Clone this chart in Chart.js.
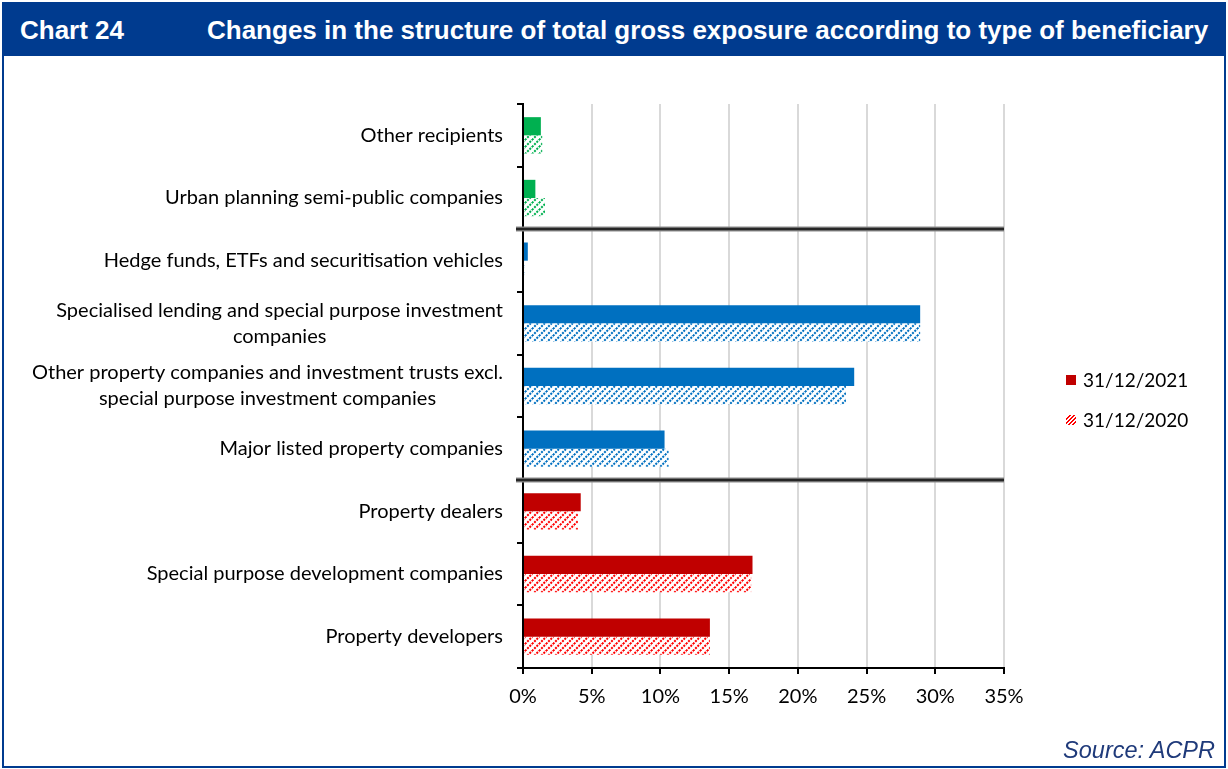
<!DOCTYPE html>
<html>
<head>
<meta charset="utf-8">
<script src="https://cdn.jsdelivr.net/npm/chart.js@4.4.0/dist/chart.umd.min.js"></script>
<style>
  html, body { margin:0; padding:0; background:#fff; }
  body { width:1228px; height:769px; position:relative; overflow:hidden; font-family: Lato, sans-serif; }
  #frame { position:absolute; left:2px; top:2px; width:1220px; height:764px; border:2px solid #003B8F; border-top:none; }
  #header { position:absolute; left:2px; top:2px; width:1224px; height:54px; background:#003B8F; color:#fff;
            font-family:"Liberation Sans", Arial, sans-serif; font-weight:bold; font-size:26px; }
  #header .num { position:absolute; left:18px; top:13px; }
  #header .ttl { position:absolute; left:205px; top:13px; white-space:nowrap; }
  #source { position:absolute; right:13px; top:737px; font-family:"Liberation Sans", Arial, sans-serif; font-style:italic;
            font-size:23.5px; color:#1F3A7A; }
  #legend { position:absolute; left:1066px; top:367px; font-size:19px; color:#000; }
  #legend .item { height:26px; line-height:26px; margin-bottom:14px; white-space:nowrap; }
  #legend .sw { display:inline-block; width:10px; height:10px; margin-right:7px; vertical-align:middle; position:relative; top:-2px; }
  canvas { position:absolute; left:0; top:0; }
</style>
</head>
<body>
<div id="frame"></div>
<div id="header"><span class="num">Chart 24</span><span class="ttl">Changes in the structure of total gross exposure according to type of beneficiary</span></div>
<canvas id="c" width="1228" height="769"></canvas>
<div id="legend"></div>
<div id="source">Source: ACPR</div>
<script>
// ---- data ----
const categories = [
  'Other recipients',
  'Urban planning semi-public companies',
  'Hedge funds, ETFs and securitisation vehicles',
  ['Specialised lending and special purpose investment', 'companies'],
  ['Other property companies and investment trusts excl.', 'special purpose investment companies'],
  'Major listed property companies',
  'Property dealers',
  'Special purpose development companies',
  'Property developers'
];
const groups = ['green', 'green', 'blue', 'blue', 'blue', 'blue', 'red', 'red', 'red'];
const seriesNames = ['31/12/2021', '31/12/2020'];
const values2021 = [1.3, 0.9, 0.35, 28.9, 24.1, 10.3, 4.2, 16.7, 13.6];
const values2020 = [1.4, 1.6, 0.1, 28.9, 23.5, 10.6, 4.0, 16.6, 13.6];
const separatorsAfter = [1, 5];
const xMin = 0, xMax = 35, xStep = 5;

// ---- styles ----
const solidColors = { green: '#00B050', blue: '#0070C0', red: '#C00000' };
const hatchColors = { green: '#00B050', blue: '#0070C0', red: '#FF0000' };
const FONT = 'Lato';
const FONT_SIZE = 20;

function makeHatch(color) {
  const s = 7;
  const t = document.createElement('canvas');
  t.width = s; t.height = s;
  const g = t.getContext('2d');
  g.fillStyle = '#fff';
  g.fillRect(0, 0, s, s);
  g.strokeStyle = color;
  g.lineWidth = 2;
  g.setLineDash([2, 1.2]);
  g.beginPath();
  g.moveTo(0, s); g.lineTo(s, 0);
  g.moveTo(-s / 2, s / 2); g.lineTo(s / 2, -s / 2);
  g.moveTo(s / 2, s * 1.5); g.lineTo(s * 1.5, s / 2);
  g.stroke();
  return g.createPattern(t, 'repeat');
}
const ctx = document.getElementById('c').getContext('2d');
const hatchPatterns = {};
Object.keys(hatchColors).forEach(k => hatchPatterns[k] = makeHatch(hatchColors[k]));

// legend (HTML)
const legend = document.getElementById('legend');
legend.innerHTML =
  '<div class="item"><span class="sw" style="background:' + solidColors.red + '"></span>' + seriesNames[0] + '</div>' +
  '<div class="item"><span class="sw" style="background:repeating-linear-gradient(-45deg,#fff 0 1.5px,#FF0000 1.5px 3px)"></span>' + seriesNames[1] + '</div>';

const yLabelPlugin = {
  id: 'yLabels',
  afterDraw(chart) {
    const ys = chart.scales.y;
    const c = chart.ctx;
    c.save();
    c.font = FONT_SIZE + 'px ' + FONT;
    c.fillStyle = '#000';
    c.textAlign = 'center';
    c.textBaseline = 'middle';
    const right = chart.chartArea.left - 20;
    const lh = 26;
    categories.forEach((lab, i) => {
      const lines = Array.isArray(lab) ? lab : [lab];
      const w = Math.max(...lines.map(l => c.measureText(l).width));
      const cx = right - w / 2;
      const cy = ys.getPixelForValue(i);
      lines.forEach((l, j) => {
        c.fillText(l, cx, cy + (j - (lines.length - 1) / 2) * lh);
      });
    });
    c.restore();
  }
};

const separatorPlugin = {
  id: 'separators',
  afterDatasetsDraw(chart) {
    const ys = chart.scales.y;
    const ca = chart.chartArea;
    const c = chart.ctx;
    c.save();
    separatorsAfter.forEach(i => {
      const y = Math.round((ys.getPixelForValue(i) + ys.getPixelForValue(i + 1)) / 2);
      c.beginPath();
      c.moveTo(ca.left - 7, y); c.lineTo(ca.right, y);
      c.strokeStyle = '#8c8c8c'; c.lineWidth = 5; c.stroke();
      c.beginPath();
      c.moveTo(ca.left - 7, y); c.lineTo(ca.right, y);
      c.strokeStyle = '#262626'; c.lineWidth = 2.5; c.stroke();
    });
    c.restore();
  }
};

Chart.defaults.font.family = FONT;
Chart.defaults.font.size = FONT_SIZE;
Chart.defaults.color = '#000';

new Chart(ctx, {
  type: 'bar',
  data: {
    labels: categories,
    datasets: [
      { label: seriesNames[0], data: values2021, backgroundColor: groups.map(g => solidColors[g]),
        borderWidth: 0, categoryPercentage: 0.58, barPercentage: 1.0 },
      { label: seriesNames[1], data: values2020, backgroundColor: groups.map(g => hatchPatterns[g]),
        borderWidth: 0, categoryPercentage: 0.58, barPercentage: 1.0 }
    ]
  },
  options: {
    indexAxis: 'y',
    responsive: false,
    animation: false,
    events: [],
    layout: { padding: { left: 0, top: 104, right: 224, bottom: 0 } },
    plugins: { legend: { display: false }, tooltip: { enabled: false }, title: { display: false } },
    scales: {
      x: {
        type: 'linear', min: xMin, max: xMax,
        afterFit(s) { s.height = 101; },
        ticks: { stepSize: xStep, padding: 11, color: '#000', font: { size: FONT_SIZE, family: FONT },
                 callback: v => v + '%' },
        grid: { color: '#d9d9d9', lineWidth: 2, tickColor: '#000', tickLength: 6, drawTicks: true },
        border: { display: true, color: '#000', width: 2 }
      },
      y: {
        type: 'category',
        afterFit(s) { s.width = 523; },
        ticks: { display: false },
        grid: { display: true, drawOnChartArea: false, drawTicks: true, tickLength: 6, color: '#000',
                tickColor: '#000', lineWidth: 2, offset: true },
        border: { display: true, color: '#000', width: 2 }
      }
    }
  },
  plugins: [yLabelPlugin, separatorPlugin]
});
</script>
</body>
</html>
